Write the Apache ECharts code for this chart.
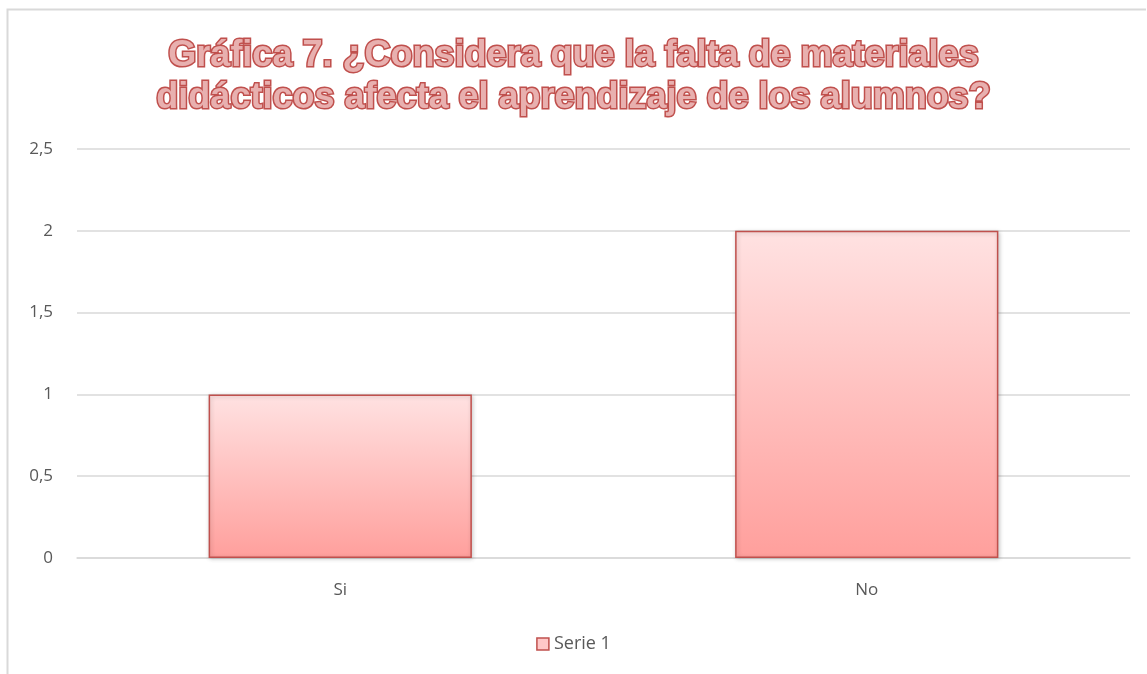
<!DOCTYPE html>
<html>
<head>
<meta charset="utf-8">
<script src="https://cdn.jsdelivr.net/npm/echarts@6/dist/echarts.min.js"></script>
<style>
  html, body { margin: 0; padding: 0; background: #fff; }
  #chart { width: 1147px; height: 674px; }
</style>
</head>
<body>
<div id="chart"></div>
<script>
var titleLines = [
    'Gráfica 7. ¿Considera que la falta de materiales',
    'didácticos afecta el aprendizaje de los alumnos?'
];
var categories = ['Si', 'No'];
var serieName = 'Serie 1';
var serieValues = [1, 2];
var yTicks = { min: 0, max: 2.5, interval: 0.5 };

var chart = echarts.init(document.getElementById('chart'));

var barFill = new echarts.graphic.LinearGradient(0, 0, 0, 1, [
    { offset: 0, color: '#ffe2e2' },
    { offset: 1, color: '#ff9f9c' }
]);

var option = {
    animation: false,
    backgroundColor: '#fff',
    graphic: [
        {
            type: 'polyline',
            shape: { points: [[7.5, 680], [7.5, 9.5], [1146, 9.5]] },
            style: { stroke: '#d9d9d9', lineWidth: 2, fill: null },
            silent: true
        }
    ],
    title: {
        text: titleLines.join('\n'),
        left: 'center',
        top: 30,
        textStyle: {
            fontFamily: 'Liberation Sans, Arial, sans-serif',
            fontWeight: 'bold',
            fontSize: 36,
            lineHeight: 42,
            color: '#e8b0af',
            textBorderColor: '#c0504d',
            textBorderWidth: 3
        }
    },
    legend: {
        bottom: 16,
        left: 'center',
        itemWidth: 12,
        itemHeight: 12,
        itemGap: 5,
        icon: 'rect',
        textStyle: { color: '#595959', fontSize: 18, fontFamily: 'Open Sans, sans-serif' },
        data: [{ name: serieName, itemStyle: { color: '#ffc8c8', borderColor: '#c0504d', borderWidth: 1.5 } }]
    },
    grid: { left: 77, right: 17, top: 149, bottom: 116, containLabel: false },
    xAxis: {
        type: 'category',
        data: categories,
        axisLine: { lineStyle: { color: '#d9d9d9', width: 1.5 } },
        axisTick: { show: false },
        axisLabel: { color: '#595959', fontSize: 17, margin: 24, fontFamily: 'Open Sans, sans-serif' }
    },
    yAxis: {
        type: 'value',
        min: yTicks.min,
        max: yTicks.max,
        interval: yTicks.interval,
        axisLine: { show: false },
        axisTick: { show: false },
        splitLine: { lineStyle: { color: '#d9d9d9', width: 1.5 } },
        axisLabel: {
            color: '#595959',
            fontSize: 17,
            margin: 24,
            fontFamily: 'Open Sans, sans-serif',
            formatter: function (v) { return String(v).replace('.', ','); }
        }
    },
    series: [
        {
            name: serieName,
            type: 'bar',
            data: serieValues,
            barWidth: '50%',
            itemStyle: {
                color: barFill,
                borderColor: '#c0504d',
                borderWidth: 1.5,
                shadowColor: 'rgba(0,0,0,0.2)',
                shadowBlur: 4,
                shadowOffsetX: 1,
                shadowOffsetY: 1
            }
        }
    ]
};

chart.setOption(option);
</script>
</body>
</html>
